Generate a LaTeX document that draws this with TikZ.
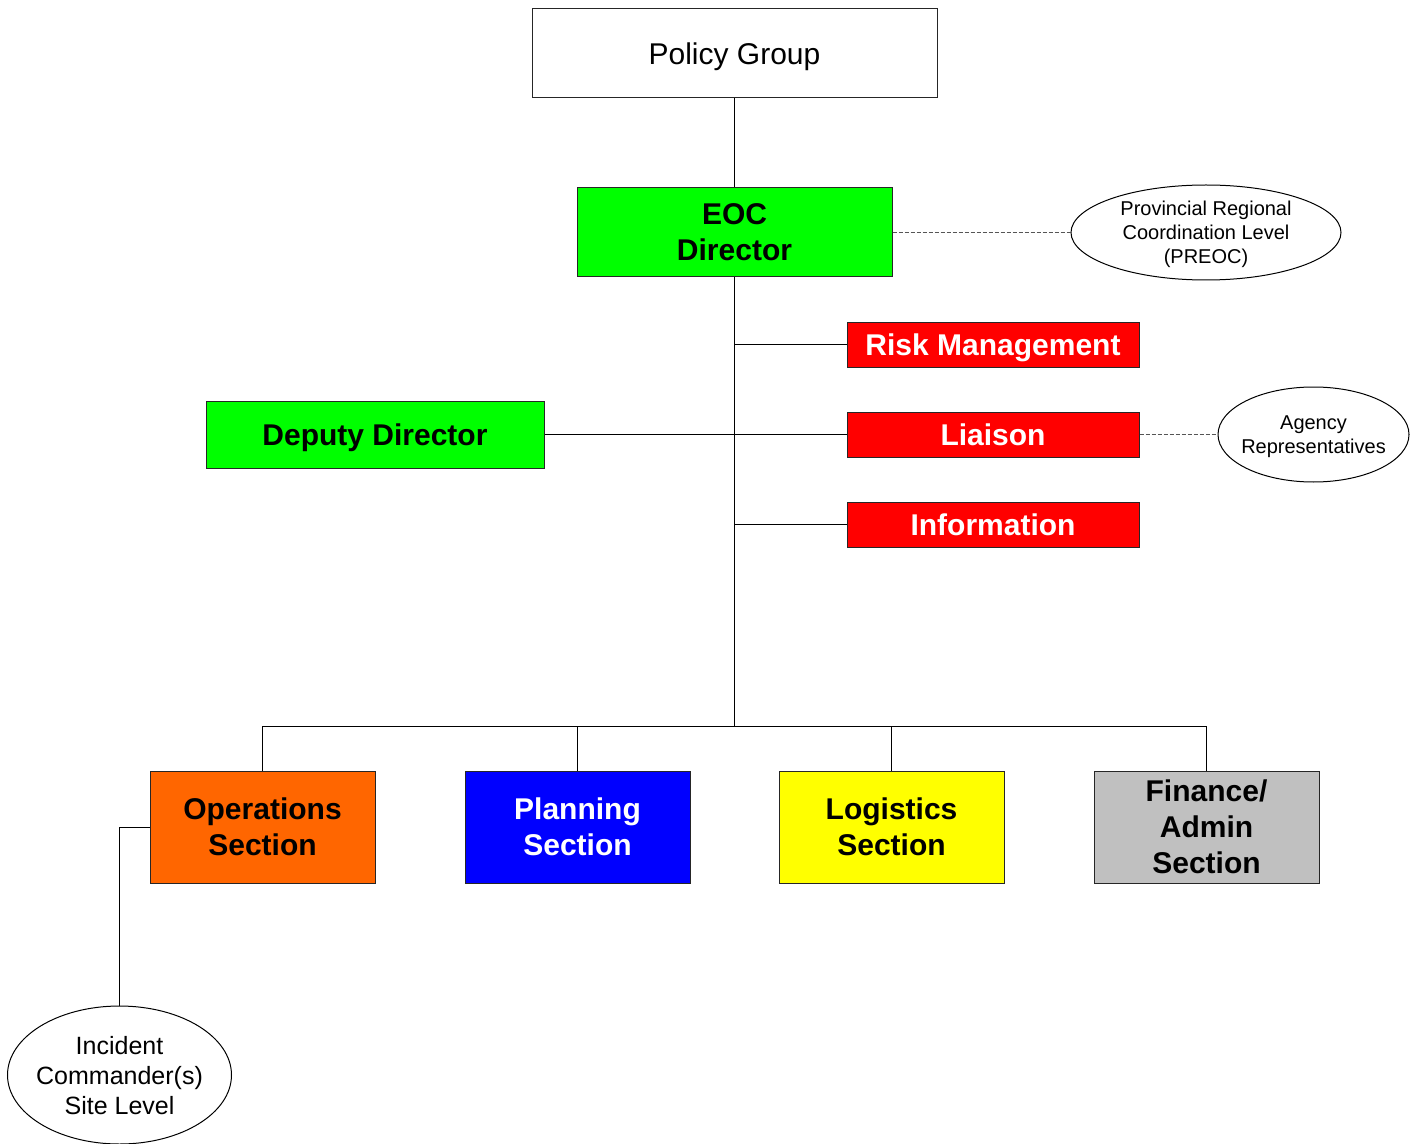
\documentclass[tikz,border=0pt]{standalone}
\usepackage{fontspec}
\setmainfont{Liberation Sans}
\usetikzlibrary{shapes.geometric}
\definecolor{brgreen}{HTML}{00FF00}
\definecolor{brred}{HTML}{FF0000}
\definecolor{brorange}{HTML}{FF6600}
\definecolor{brblue}{HTML}{0000FF}
\definecolor{bryellow}{HTML}{FFFF00}
\definecolor{brgray}{HTML}{C0C0C0}
\definecolor{dashgray}{HTML}{555555}
\begin{document}
\begin{tikzpicture}[x=0.5pt,y=-0.5pt,
  box/.style={draw=black!85,line width=0.5pt,rectangle,inner sep=0pt,align=center},
  bigtext/.style={font=\fontsize{15}{18}\selectfont\bfseries},
  oneline/.style={text height=10.8pt,text depth=0pt},
  redbox/.style={box,fill=brred,text=white,bigtext,oneline,minimum width=146pt,minimum height=22.5pt},
  secbox/.style={box,bigtext,minimum width=112.5pt,minimum height=56pt},
  oval/.style={draw=black,line width=0.5pt,ellipse,inner sep=0pt,text depth=0pt,align=center},
  conn/.style={draw=black,line width=0.5pt},
  dconn/.style={draw=dashgray,line width=0.5pt,dash pattern=on 2pt off 1pt}]
\useasboundingbox (0,0) rectangle (1417,1144);
% top
\node[box,oneline,minimum width=202.5pt,minimum height=44.5pt,font=\fontsize{15}{18}\selectfont] (pg) at (734.5,53.5) {Policy Group};
\node[box,fill=brgreen,bigtext,minimum width=157.5pt,minimum height=44.5pt] (eoc) at (734.5,232.5) {EOC\\Director};
\node[oval,minimum width=135pt,minimum height=47.5pt,font=\fontsize{10}{12}\selectfont] (preoc) at (1206,232.5) {Provincial Regional\\Coordination Level\\(PREOC)};
% staff
\node[redbox] (risk) at (993,345) {Risk Management};
\node[redbox] (liaison) at (993,434.5) {Liaison};
\node[redbox] (info) at (993,524.5) {Information};
\node[box,fill=brgreen,bigtext,oneline,minimum width=169pt,minimum height=33.5pt] (dep) at (375,434.5) {Deputy Director};
\node[oval,inner xsep=-2.6pt,minimum width=95.5pt,minimum height=47.5pt,font=\fontsize{10}{12}\selectfont] (agency) at (1313.5,434.5) {Agency\\Representatives};
% sections
\node[secbox,fill=brorange] (ops) at (262.5,827) {Operations\\Section};
\node[secbox,fill=brblue,text=white] (plan) at (577.5,827) {Planning\\Section};
\node[secbox,fill=bryellow] (log) at (891.5,827) {Logistics\\Section};
\node[secbox,fill=brgray] (fin) at (1206.5,827) {Finance/\\Admin\\Section};
\node[oval,inner xsep=-2.3pt,minimum width=112pt,minimum height=69pt,font=\fontsize{12.5}{15}\selectfont] (ic) at (119.5,1075) {Incident\\Commander(s)\\Site Level};
% coordinates
\coordinate (bus) at (734.5,726);
\coordinate (t1) at (734.5,345);
\coordinate (t3) at (734.5,524.5);
\coordinate (busL) at (262.5,726);
\coordinate (busR) at (1206.5,726);
\coordinate (icbend) at (119.5,827);
% connectors
\draw[conn] (pg) -- (eoc);
\draw[conn] (eoc.south) -- (bus);
\draw[conn] (t1) -- (risk.west);
\draw[conn] (t3) -- (info.west);
\draw[conn] (dep.east) -- (liaison.west);
\draw[conn] (busL) -- (busR);
\draw[conn] (busL) -- (ops.north);
\draw[conn] (plan.north |- bus) -- (plan.north);
\draw[conn] (log.north |- bus) -- (log.north);
\draw[conn] (busR) -- (fin.north);
\draw[conn] (ops.west) -- (icbend) -- (ic.north);
\draw[dconn] (eoc.east) -- (preoc.west);
\draw[dconn] (liaison.east) -- (agency.west);
\end{tikzpicture}
\end{document}
